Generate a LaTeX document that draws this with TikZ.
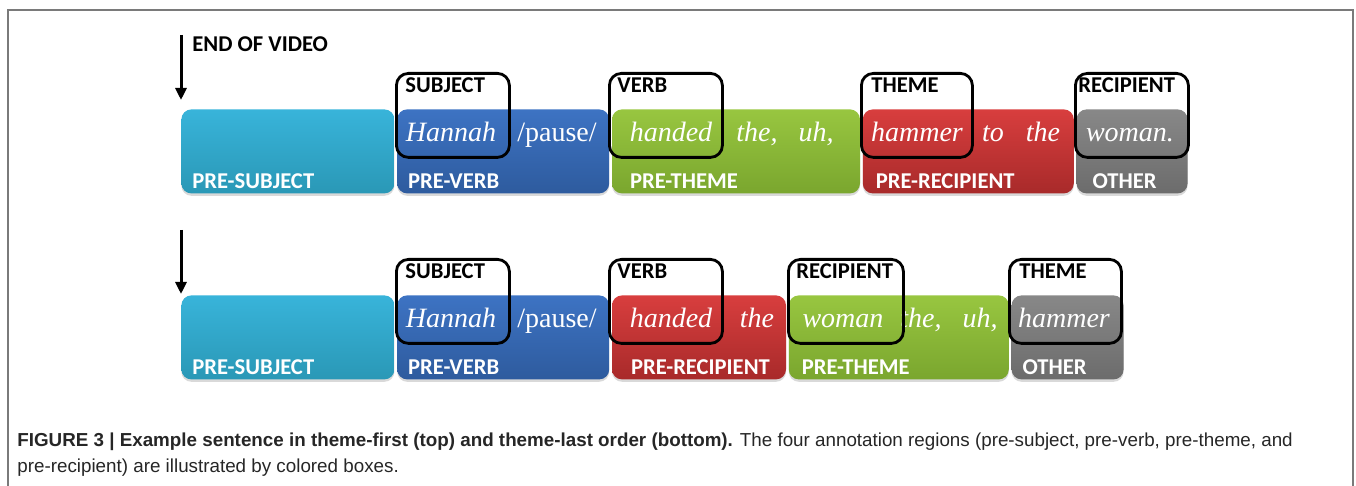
\documentclass[tikz,border=0pt]{standalone}
\usepackage{fontspec}
\setmainfont{Liberation Serif}
\newfontfamily\tagfont{Carlito}
\newfontfamily\capfont{Liberation Sans}
\usetikzlibrary{positioning, arrows.meta, shadows}

\newdimen\px \px=0.5pt

\definecolor{psTop}{HTML}{38B4DA}
\definecolor{psBot}{HTML}{2A98B6}
\definecolor{pvTop}{HTML}{3D73C3}
\definecolor{pvBot}{HTML}{2E5B9E}
\definecolor{ptTop}{HTML}{98C640}
\definecolor{ptBot}{HTML}{7AA62E}
\definecolor{prTop}{HTML}{D83E3E}
\definecolor{prBot}{HTML}{A82A2A}
\definecolor{otTop}{HTML}{888888}
\definecolor{otBot}{HTML}{6C6C6C}
\definecolor{framegray}{HTML}{7A7A7A}

\begin{document}
\begin{tikzpicture}[x=0.5pt, y=0.5pt, node distance=1pt,
    region/.style={rounded corners=5pt, minimum height=84\px, inner sep=0pt,
        drop shadow={shadow xshift=0pt, shadow yshift=-1.2pt, opacity=0.3}},
    pre subject/.style={region, top color=psTop, bottom color=psBot},
    pre verb/.style={region, top color=pvTop, bottom color=pvBot},
    pre theme/.style={region, top color=ptTop, bottom color=ptBot},
    pre recipient/.style={region, top color=prTop, bottom color=prBot},
    other/.style={region, top color=otTop, bottom color=otBot},
    role/.style={draw=black, line width=1.4pt, rounded corners=6pt, minimum height=84\px,
        anchor=north west, inner sep=0pt},
    tag/.style={font=\tagfont\bfseries\fontsize{11.3}{13}\selectfont, inner sep=0pt, anchor=base west},
    word/.style={font=\fontsize{14}{16}\selectfont, text=white, inner sep=0pt, anchor=base},
    cue/.style={line width=1.5pt, -{Triangle[length=6pt, width=5.5pt]}},
    caption/.style={font=\capfont\fontsize{9.4}{11}\selectfont, text=black!85, inner sep=0pt, anchor=base west}]
    \useasboundingbox (0,0) rectangle (1356,-486);

    % frame
    \coordinate (f1) at (8,-486);
    \coordinate (f2) at (8,-10);
    \coordinate (f3) at (1353,-10);
    \coordinate (f4) at (1353,-486);
    \draw[framegray, line width=1pt] (f1)--(f2)--(f3)--(f4);

    % theme-first (top)
    \coordinate (e1) at (181,-35);
    \coordinate (e1tip) at (181,-100);
    \draw[cue] (e1)--(e1tip);
    \node[tag, text=black] (eov) at (192,-52) {END OF VIDEO};

    \node[pre subject, minimum width=213\px, anchor=north west] (ps1) at (181,-109) {};
    \node[pre verb, minimum width=212\px, right=of ps1] (pv1) {};
    \node[pre theme, minimum width=248\px, right=of pv1] (pt1) {};
    \node[pre recipient, minimum width=211\px, right=of pt1] (pr1) {};
    \node[other, minimum width=111\px, right=of pr1] (ot1) {};

    \node[tag, text=white] (lps1) at ([xshift=11\px, yshift=5\px]ps1.south west) {PRE-SUBJECT};
    \node[tag, text=white] (lpv1) at ([xshift=11\px, yshift=5\px]pv1.south west) {PRE-VERB};
    \node[tag, text=white] (lpt1) at ([xshift=18\px, yshift=5\px]pt1.south west) {PRE-THEME};
    \node[tag, text=white] (lpr1) at ([xshift=13\px, yshift=5\px]pr1.south west) {PRE-RECIPIENT};
    \node[tag, text=white] (lot1) at ([xshift=16\px, yshift=5\px]ot1.south west) {OTHER};

    \node[word] (w1a) at (451,-142) {\textit{Hannah}};
    \node[word] (w1b) at (557,-142) {/pause/};
    \node[word] (w1c) at (671,-142) {\textit{handed}};
    \node[word] (w1d) at (757,-142) {\textit{the,}};
    \node[word] (w1e) at (816,-142) {\textit{uh,}};
    \node[word] (w1f) at (917,-142) {\textit{hammer}};
    \node[word] (w1g) at (993,-142) {\textit{to}};
    \node[word] (w1h) at (1043,-142) {\textit{the}};
    \node[word] (w1i) at (1130,-142) {\textit{woman.}};

    \node[role, minimum width=113\px] (sub1) at (395,-72) {};
    \node[role, minimum width=113\px] (vrb1) at (608,-72) {};
    \node[role, minimum width=111\px] (thm1) at (860,-72) {};
    \node[role, minimum width=113\px] (rec1) at (1074,-72) {};
    \node[tag] (lsub1) at ([xshift=10\px, yshift=-21\px]sub1.north west) {SUBJECT};
    \node[tag] (lvrb1) at ([xshift=9\px, yshift=-21\px]vrb1.north west) {VERB};
    \node[tag] (lthm1) at ([xshift=11\px, yshift=-21\px]thm1.north west) {THEME};
    \node[tag] (lrec1) at ([xshift=4\px, yshift=-21\px]rec1.north west) {RECIPIENT};

    % theme-last (bottom)
    \coordinate (e2) at (181,-230);
    \coordinate (e2tip) at (181,-294);
    \draw[cue] (e2)--(e2tip);

    \node[pre subject, minimum width=213\px, anchor=north west] (ps2) at (181,-295) {};
    \node[pre verb, minimum width=212\px, right=of ps2] (pv2) {};
    \node[pre recipient, minimum width=174\px, right=of pv2] (pr2) {};
    \node[pre theme, minimum width=220\px, right=of pr2] (pt2) {};
    \node[other, minimum width=112\px, right=of pt2] (ot2) {};

    \node[tag, text=white] (lps2) at ([xshift=11\px, yshift=5\px]ps2.south west) {PRE-SUBJECT};
    \node[tag, text=white] (lpv2) at ([xshift=11\px, yshift=5\px]pv2.south west) {PRE-VERB};
    \node[tag, text=white] (lpr2) at ([xshift=19\px, yshift=5\px]pr2.south west) {PRE-RECIPIENT};
    \node[tag, text=white] (lpt2) at ([xshift=13\px, yshift=5\px]pt2.south west) {PRE-THEME};
    \node[tag, text=white] (lot2) at ([xshift=11\px, yshift=5\px]ot2.south west) {OTHER};

    \node[word] (w2a) at (451,-328) {\textit{Hannah}};
    \node[word] (w2b) at (557,-328) {/pause/};
    \node[word] (w2c) at (671,-328) {\textit{handed}};
    \node[word] (w2d) at (757,-328) {\textit{the}};
    \node[word] (w2e) at (843,-328) {\textit{woman}};
    \node[word] (w2f) at (921,-328) {\textit{the,}};
    \node[word] (w2g) at (980,-328) {\textit{uh,}};
    \node[word] (w2h) at (1064,-328) {\textit{hammer}};

    \node[role, minimum width=113\px] (sub2) at (395,-258) {};
    \node[role, minimum width=113\px] (vrb2) at (608,-258) {};
    \node[role, minimum width=115\px] (rec2) at (787,-258) {};
    \node[role, minimum width=112\px] (thm2) at (1008,-258) {};
    \node[tag] (lsub2) at ([xshift=10\px, yshift=-21\px]sub2.north west) {SUBJECT};
    \node[tag] (lvrb2) at ([xshift=9\px, yshift=-21\px]vrb2.north west) {VERB};
    \node[tag] (lrec2) at ([xshift=9\px, yshift=-21\px]rec2.north west) {RECIPIENT};
    \node[tag] (lthm2) at ([xshift=11\px, yshift=-21\px]thm2.north west) {THEME};

    % caption
    \node[caption] (cap1) at (17,-446) {\textbf{FIGURE 3 | Example sentence in theme-first (top) and theme-last order (bottom).} The four annotation regions (pre-subject, pre-verb, pre-theme, and};
    \node[caption] (cap2) at (17,-473) {pre-recipient) are illustrated by colored boxes.};
\end{tikzpicture}
\end{document}
